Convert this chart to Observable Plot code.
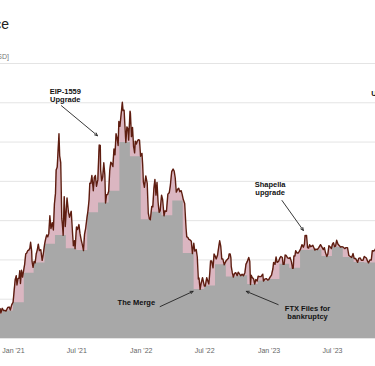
<!DOCTYPE html>
<html>
<head>
<meta charset="utf-8">
<script src="https://cdn.jsdelivr.net/npm/d3@7"></script>
<script src="https://cdn.jsdelivr.net/npm/@observablehq/plot@0.6"></script>
<style>
  html, body { margin: 0; padding: 0; background: #fff; }
  #wrap { position: relative; width: 375px; height: 366px; overflow: hidden; font-family: "Liberation Sans", Arial, sans-serif; }
  #chart { position: absolute; left: 0; top: 0; }
  .title { position: absolute; right: 366px; top: 16px; font-size: 14px; line-height: 16px; color: #222; white-space: nowrap; }
  .unit { position: absolute; right: 366px; top: 52px; font-size: 7px; line-height: 9px; color: #777; white-space: nowrap; }
</style>
</head>
<body>
<div id="wrap">
  <div id="chart"></div>
  <div class="title">Ethereum Price</div>
  <div class="unit">[USD]</div>
</div>
<script>
// ETH daily close (sampled), USD
const dates = [
 "2020-11-20","2020-11-24","2020-11-26","2020-11-30",
 "2020-12-04","2020-12-08","2020-12-11","2020-12-16","2020-12-20","2020-12-23","2020-12-27","2020-12-31",
 "2021-01-03","2021-01-06","2021-01-09","2021-01-11","2021-01-14","2021-01-17","2021-01-19","2021-01-21","2021-01-24","2021-01-27","2021-01-30",
 "2021-02-02","2021-02-05","2021-02-08","2021-02-11","2021-02-14","2021-02-17","2021-02-19","2021-02-22","2021-02-23","2021-02-26",
 "2021-03-01","2021-03-04","2021-03-07","2021-03-10","2021-03-13","2021-03-16","2021-03-20","2021-03-24","2021-03-27","2021-03-31",
 "2021-04-03","2021-04-06","2021-04-09","2021-04-12","2021-04-15","2021-04-18","2021-04-22","2021-04-25","2021-04-28",
 "2021-05-01","2021-05-03","2021-05-06","2021-05-09","2021-05-11","2021-05-13","2021-05-16","2021-05-19","2021-05-21","2021-05-23","2021-05-26","2021-05-29",
 "2021-06-01","2021-06-03","2021-06-07","2021-06-10","2021-06-15","2021-06-18","2021-06-21","2021-06-24","2021-06-26","2021-06-30",
 "2021-07-03","2021-07-07","2021-07-10","2021-07-14","2021-07-17","2021-07-20","2021-07-23","2021-07-26","2021-07-30",
 "2021-08-02","2021-08-05","2021-08-07","2021-08-10","2021-08-13","2021-08-17","2021-08-20","2021-08-23","2021-08-26","2021-08-30",
 "2021-09-02","2021-09-03","2021-09-06","2021-09-07","2021-09-10","2021-09-13","2021-09-16","2021-09-19","2021-09-21","2021-09-24","2021-09-27","2021-09-30",
 "2021-10-03","2021-10-06","2021-10-09","2021-10-12","2021-10-15","2021-10-18","2021-10-21","2021-10-24","2021-10-27","2021-10-29",
 "2021-11-01","2021-11-04","2021-11-08","2021-11-10","2021-11-13","2021-11-16","2021-11-18","2021-11-21","2021-11-24","2021-11-26","2021-11-30",
 "2021-12-01","2021-12-04","2021-12-07","2021-12-10","2021-12-13","2021-12-15","2021-12-18","2021-12-21","2021-12-24","2021-12-27","2021-12-30",
 "2022-01-03","2022-01-05","2022-01-07","2022-01-10","2022-01-14","2022-01-18","2022-01-21","2022-01-24","2022-01-27","2022-01-31",
 "2022-02-03","2022-02-06","2022-02-09","2022-02-12","2022-02-15","2022-02-18","2022-02-21","2022-02-24","2022-02-28",
 "2022-03-03","2022-03-07","2022-03-10","2022-03-14","2022-03-18","2022-03-22","2022-03-25","2022-03-29",
 "2022-04-02","2022-04-05","2022-04-08","2022-04-11","2022-04-15","2022-04-18","2022-04-21","2022-04-25","2022-04-28",
 "2022-05-01","2022-05-05","2022-05-09","2022-05-11","2022-05-14","2022-05-17","2022-05-20","2022-05-24","2022-05-27","2022-05-31",
 "2022-06-03","2022-06-07","2022-06-10","2022-06-13","2022-06-15","2022-06-18","2022-06-21","2022-06-25","2022-06-28","2022-06-30",
 "2022-07-03","2022-07-07","2022-07-10","2022-07-13","2022-07-16","2022-07-18","2022-07-21","2022-07-25","2022-07-28","2022-07-31",
 "2022-08-03","2022-08-07","2022-08-10","2022-08-13","2022-08-16","2022-08-19","2022-08-22","2022-08-26","2022-08-29",
 "2022-09-01","2022-09-05","2022-09-07","2022-09-09","2022-09-12","2022-09-14","2022-09-15","2022-09-18","2022-09-21","2022-09-24","2022-09-28",
 "2022-10-02","2022-10-05","2022-10-08","2022-10-12","2022-10-16","2022-10-20","2022-10-24","2022-10-27","2022-10-31",
 "2022-11-04","2022-11-07","2022-11-09","2022-11-11","2022-11-14","2022-11-18","2022-11-21","2022-11-24","2022-11-28",
 "2022-12-01","2022-12-05","2022-12-09","2022-12-14","2022-12-16","2022-12-20","2022-12-24","2022-12-28","2022-12-31",
 "2023-01-04","2023-01-08","2023-01-12","2023-01-14","2023-01-18","2023-01-21","2023-01-24","2023-01-28",
 "2023-02-01","2023-02-04","2023-02-08","2023-02-10","2023-02-13","2023-02-16","2023-02-19","2023-02-23","2023-02-27",
 "2023-03-02","2023-03-06","2023-03-09","2023-03-11","2023-03-13","2023-03-16","2023-03-18","2023-03-22","2023-03-25","2023-03-28",
 "2023-04-01","2023-04-05","2023-04-09","2023-04-12","2023-04-14","2023-04-16","2023-04-18","2023-04-21","2023-04-24","2023-04-27","2023-04-30",
 "2023-05-03","2023-05-06","2023-05-09","2023-05-12","2023-05-15","2023-05-19","2023-05-23","2023-05-28",
 "2023-06-01","2023-06-05","2023-06-08","2023-06-11","2023-06-15","2023-06-18","2023-06-21","2023-06-24","2023-06-28",
 "2023-07-01","2023-07-04","2023-07-07","2023-07-10","2023-07-13","2023-07-17","2023-07-21","2023-07-24","2023-07-28",
 "2023-08-01","2023-08-05","2023-08-09","2023-08-13","2023-08-17","2023-08-21","2023-08-25","2023-08-29",
 "2023-09-01","2023-09-05","2023-09-11","2023-09-14","2023-09-18","2023-09-22","2023-09-26","2023-09-30",
 "2023-10-02","2023-10-06","2023-10-09","2023-10-12","2023-10-16","2023-10-20","2023-10-23","2023-10-27","2023-10-31",
 "2023-11-05","2023-11-09","2023-11-15","2023-11-22",
 "2023-12-01","2023-12-08","2023-12-15","2023-12-22","2023-12-28",
 "2024-01-03","2024-01-11","2024-01-23",
 "2024-02-01","2024-02-10","2024-02-20","2024-02-28",
 "2024-03-05","2024-03-11","2024-03-14"
];
const closes = [
 510,605,520,615,
 570,570,560,635,640,580,685,738,
 975,1200,1280,1090,1220,1230,1380,1120,1390,1250,1380,
 1510,1720,1740,1790,1800,1840,1960,1780,1570,1450,
 1570,1540,1720,1800,1920,1790,1810,1590,1710,1920,
 2030,2110,2070,2140,2500,2240,2360,2210,2740,
 2950,3430,3490,3900,4170,3720,3580,2440,2300,2100,2890,2280,
 2630,2860,2580,2470,2590,2230,1890,1990,1830,2270,
 2220,2320,2140,1990,1900,1790,2120,2230,2460,
 2610,2830,3160,3160,3320,3010,3280,3320,3100,3230,
 3790,3940,3930,3430,3210,3290,3580,3330,2760,2930,2930,3000,
 3420,3590,3560,3500,3860,3740,4170,4080,3930,4420,
 4320,4530,4810,4640,4650,4240,3990,4310,4270,4040,4630,
 4590,4110,4300,3910,3780,4020,3960,4020,4050,4040,3710,
 3770,3540,3190,3080,3310,3160,2560,2440,2420,2690,
 2680,3050,3240,2920,3180,2780,2570,2600,2920,
 2830,2500,2600,2590,2940,2970,3110,3400,
 3450,3410,3270,2980,3040,3060,2990,3010,2930,
 2830,2750,2240,2070,2060,2020,2010,1980,1730,1940,
 1780,1810,1660,1210,1230,1000,1120,1240,1140,1070,
 1070,1240,1170,1110,1360,1580,1580,1440,1720,1680,
 1620,1700,1850,1990,1880,1620,1620,1500,1550,
 1590,1620,1630,1720,1720,1640,1470,1340,1250,1320,1340,
 1280,1350,1320,1280,1310,1280,1340,1510,1570,
 1650,1570,1100,1290,1240,1210,1110,1200,1170,
 1270,1260,1260,1310,1170,1210,1220,1190,1200,
 1250,1290,1420,1550,1510,1660,1550,1570,
 1640,1670,1650,1510,1510,1700,1690,1640,1630,
 1650,1560,1430,1430,1680,1680,1790,1740,1740,1770,
 1820,1910,1860,1920,2100,2090,2100,1850,1840,1910,1870,
 1880,1900,1850,1800,1820,1810,1850,1910,
 1860,1810,1850,1750,1670,1720,1890,1870,1830,
 1920,1950,1870,1880,2000,1920,1890,1860,1870,
 1860,1830,1850,1850,1690,1670,1650,1730,
 1630,1630,1550,1630,1640,1590,1590,1670,
 1660,1640,1580,1540,1600,1600,1790,1780,1810,
 1890,2120,2060,2060,
 2090,2360,2220,2320,2380,
 2210,2620,2240,
 2300,2500,3000,3380,
 3550,4060,3880
];
// Monthly low (lowest close of each month), USD
const monthStarts = [
 "2020-11-01","2020-12-01","2021-01-01","2021-02-01","2021-03-01","2021-04-01","2021-05-01","2021-06-01",
 "2021-07-01","2021-08-01","2021-09-01","2021-10-01","2021-11-01","2021-12-01","2022-01-01","2022-02-01",
 "2022-03-01","2022-04-01","2022-05-01","2022-06-01","2022-07-01","2022-08-01","2022-09-01","2022-10-01",
 "2022-11-01","2022-12-01","2023-01-01","2023-02-01","2023-03-01","2023-04-01","2023-05-01","2023-06-01",
 "2023-07-01","2023-08-01","2023-09-01","2023-10-01","2023-11-01","2023-12-01","2024-01-01","2024-02-01",
 "2024-03-01","2024-04-01"
];
const monthLows = [
 500,560,730,1330,1540,1920,2100,1830,
 1790,2560,2760,3000,3990,3700,2420,2570,
 2500,2800,1730,1000,1070,1500,1250,1280,
 1100,1170,1200,1510,1430,1790,1800,1670,
 1860,1650,1550,1540,1790,2090,2210,2300,
 3380,3380
];
// Axis
const tickDates = ["2021-01-01","2021-07-01","2022-01-01","2022-07-01","2023-01-01","2023-07-01"];
const tickLabels = ["Jan '21","Jul '21","Jan '22","Jul '22","Jan '23","Jul '23"];
const gridValues = [0,800,1600,2400,3200,4000,4800,5600];
// Annotations (data coordinates)
const noteTexts = ["EIP-1559\nUpgrade","The Merge","FTX Files for\nbankruptcy","Shapella\nupgrade"];
const noteDates = ["2021-05-29","2021-12-18","2023-04-21","2023-01-04"];
const noteValues = [4950,730,530,3060];
const edgeNoteText = ["Upgrade"];
const edgeNoteDate = ["2023-10-20"];
const edgeNoteValue = [4980];
const arrowFromDates = ["2021-05-18","2022-02-24","2023-01-27","2023-02-07"];
const arrowFromValues = [4740,650,690,2810];
const arrowToDates = ["2021-08-29","2022-05-29","2022-10-28","2023-04-09"];
const arrowToValues = [4130,960,960,2200];

const priceData = dates.map((d, i) => ({date: new Date(d), value: closes[i]}));
const lowData = monthStarts.map((d, i) => ({date: new Date(d), value: monthLows[i]}));
const notes = noteTexts.map((t, i) => ({text: t, date: new Date(noteDates[i]), value: noteValues[i]}));
const edgeNotes = edgeNoteText.map((t, i) => ({text: t, date: new Date(edgeNoteDate[i]), value: edgeNoteValue[i]}));
const arrows = arrowFromDates.map((d, i) => ({
  x1: new Date(d), y1: arrowFromValues[i], x2: new Date(arrowToDates[i]), y2: arrowToValues[i]
}));
const ticks = tickDates.map(d => new Date(d));
const labelOf = new Map(ticks.map((t, i) => [+t, tickLabels[i]]));

const chart = Plot.plot({
  width: 375,
  height: 366,
  marginTop: 63,
  marginBottom: 28,
  marginLeft: 0,
  marginRight: 0,
  style: {fontFamily: "Liberation Sans, Arial, sans-serif", background: "transparent"},
  x: {type: "utc", domain: [new Date("2020-11-25"), new Date("2023-11-01")]},
  y: {domain: [0, 5600]},
  marks: [
    Plot.gridY(gridValues, {stroke: "#e4e4e4", strokeOpacity: 1, strokeWidth: 1}),
    Plot.areaY(priceData, {x: "date", y: "value", fill: "#dbb6c1", clip: true}),
    Plot.areaY(lowData, {x: "date", y: "value", fill: "#a8a8a8", curve: "step-after", clip: true}),
    Plot.lineY(priceData, {x: "date", y: "value", stroke: "#5e1d10", strokeWidth: 1.4, clip: true}),
    Plot.axisX(ticks, {tickSize: 0, tickPadding: 10, fontSize: 7, fill: "#666",
      tickFormat: d => labelOf.get(+d), label: null}),
    Plot.axisY({ticks: [], label: null}),
    Plot.arrow(arrows, {x1: "x1", y1: "y1", x2: "x2", y2: "y2", stroke: "#222", strokeWidth: 0.9,
      headLength: 5, headAngle: 50}),
    Plot.text(notes, {x: "date", y: "value", text: "text", fontSize: 7.5, fontWeight: "bold",
      fill: "#111", lineHeight: 1.1}),
    Plot.text(edgeNotes, {x: "date", y: "value", text: "text", fontSize: 7.5, fontWeight: "bold",
      fill: "#111", textAnchor: "start"})
  ]
});
document.getElementById("chart").appendChild(chart);
</script>
</body>
</html>
